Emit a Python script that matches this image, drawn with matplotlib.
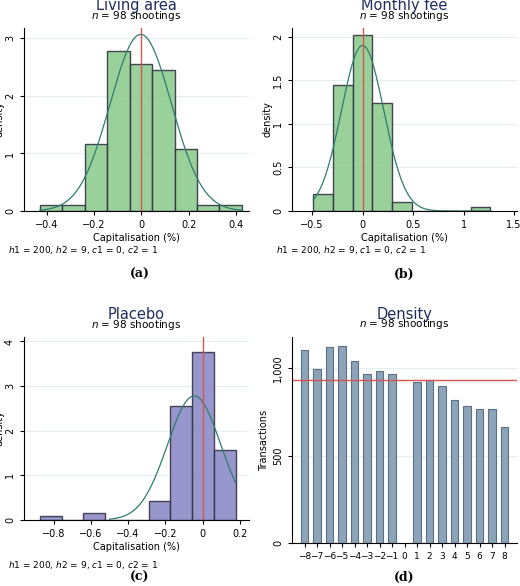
import numpy as np
import matplotlib.pyplot as plt

# panel (a) living area
a_edges = [-0.43, -0.335, -0.24, -0.145, -0.05, 0.045, 0.14, 0.235, 0.33, 0.425]
a_dens = [0.1, 0.1, 1.17, 2.78, 2.56, 2.45, 1.07, 0.1, 0.1]
a_mu, a_sd = -0.003, 0.13

# panel (b) monthly fee
b_edges = [-0.49, -0.295, -0.10, 0.095, 0.29, 0.485, 0.68, 0.875, 1.07, 1.265]
b_dens = [0.2, 1.45, 2.02, 1.24, 0.1, 0, 0, 0, 0.05]
b_mu, b_sd = 0.0, 0.21

# panel (c) placebo
c_edges = [-0.875, -0.758, -0.641, -0.524, -0.407, -0.29, -0.173, -0.056, 0.061, 0.178]
c_dens = [0.08, 0, 0.16, 0, 0, 0.43, 2.55, 3.77, 1.57]
c_mu, c_sd = -0.045, 0.1435

# panel (d) density
d_periods = [-8, -7, -6, -5, -4, -3, -2, -1, 1, 2, 3, 4, 5, 6, 7, 8]
d_trans = [1107, 994, 1120, 1126, 1044, 966, 987, 966, 920, 935, 902, 818, 786, 769, 769, 665]
d_mean = 933

navy = '#1f2d5c'
curve = '#2e7d6e'
red = '#d9534f'
note = '$h1$ = 200, $h2$ = 9, $c1$ = 0, $c2$ = 1'

fig = plt.figure(figsize=(5.2, 5.86), dpi=100)
W, H = 520, 586


def mkax(x0, x1, y0, y1):
    return fig.add_axes([x0 / W, 1 - y1 / H, (x1 - x0) / W, (y1 - y0) / H])


def style(ax, title):
    ax.set_title(title, color=navy, fontsize=10.5, pad=13)
    ax.text(0.5, 1.03, '$n$ = 98 shootings', transform=ax.transAxes,
            ha='center', va='bottom', fontsize=7.5)
    for s in ['top', 'right']:
        ax.spines[s].set_visible(False)
    ax.tick_params(labelsize=7, length=3)
    ax.tick_params(axis='y', labelrotation=90)
    for lab in ax.get_yticklabels():
        lab.set_va('center')
    ax.grid(axis='y', color='#e4efef', lw=0.8)
    ax.set_axisbelow(True)


def hist_panel(ax, edges, dens, mu, sd, color, xlim, ylim, yticks, xticks, xtl, title, cx, note_y):
    e = np.array(edges)
    ax.bar(e[:-1], dens, width=np.diff(e), align='edge', color=color,
           edgecolor='#333344', lw=1.0, alpha=0.9)
    x = np.linspace(cx[0], cx[1], 300)
    ax.plot(x, np.exp(-0.5 * ((x - mu) / sd) ** 2) / (sd * np.sqrt(2 * np.pi)),
            color=curve, lw=0.9)
    ax.axvline(0, color=red, lw=1.0)
    ax.set_xlim(*xlim)
    ax.set_ylim(*ylim)
    ax.set_yticks(yticks)
    ax.set_yticklabels([f'{t:g}' for t in yticks])
    ax.set_xticks(xticks)
    ax.set_xticklabels(xtl)
    ax.set_xlabel('Capitalisation (%)', fontsize=7, labelpad=2)
    ax.set_ylabel('density', fontsize=7)
    ax.yaxis.set_label_coords(-0.085, 0.5)
    style(ax, title)
    ax.text(-0.07, note_y, note, transform=ax.transAxes, fontsize=6.5, va='center')


def m(v):
    return f'{v:g}'.replace('-', '\u2212')


ax1 = mkax(24, 249, 28, 211)
hist_panel(ax1, a_edges, a_dens, a_mu, a_sd, '#8fcb8f', (-0.497, 0.455), (0, 3.18),
           [0, 1, 2, 3], [-0.4, -0.2, 0, 0.2, 0.4], [m(v) for v in [-0.4, -0.2, 0, 0.2, 0.4]],
           'Living area', (-0.43, 0.425), -0.215)
ax2 = mkax(292, 517, 28, 211)
hist_panel(ax2, b_edges, b_dens, b_mu, b_sd, '#8fcb8f', (-0.70, 1.53), (0, 2.1),
           [0, 0.5, 1, 1.5, 2], [-0.5, 0, 0.5, 1, 1.5], [m(v) for v in [-0.5, 0, 0.5, 1, 1.5]],
           'Monthly fee', (-0.49, 1.265), -0.215)
ax3 = mkax(24, 249, 337, 520)
hist_panel(ax3, c_edges, c_dens, c_mu, c_sd, '#8c8cc8', (-0.96, 0.25), (0, 4.1),
           [0, 1, 2, 3, 4], [-0.8, -0.6, -0.4, -0.2, 0, 0.2],
           [m(v) for v in [-0.8, -0.6, -0.4, -0.2, 0, 0.2]], 'Placebo', (-0.5, 0.178), -0.245)

ax4 = mkax(292, 517, 337, 543)
ax4.bar(d_periods, d_trans, width=0.6, color='#8ca3b8', edgecolor='#5a6f85', lw=0.8)
ax4.axhline(d_mean, color=red, lw=1.0)
ax4.set_xlim(-9.0, 9.0)
ax4.set_ylim(0, 1180)
ax4.set_yticks([0, 500, 1000])
ax4.set_yticklabels(['0', '500', '1,000'])
ax4.set_xticks(range(-8, 9))
ax4.set_xticklabels([m(v) for v in range(-8, 9)], fontsize=6.5)
ax4.tick_params(axis='x', length=0)
ax4.set_ylabel('Transactions', fontsize=7)
ax4.yaxis.set_label_coords(-0.1, 0.5)
style(ax4, 'Density')
ax4.tick_params(axis='x', labelsize=6.5)

for lbl, x, y in [('(a)', 0.269, 274), ('(b)', 0.777, 274), ('(c)', 0.269, 577), ('(d)', 0.777, 577)]:
    fig.text(x, 1 - y / H, lbl, ha='center', va='center', fontsize=9,
             fontweight='bold', family='DejaVu Serif')

fig.savefig('out.png', dpi=100)
